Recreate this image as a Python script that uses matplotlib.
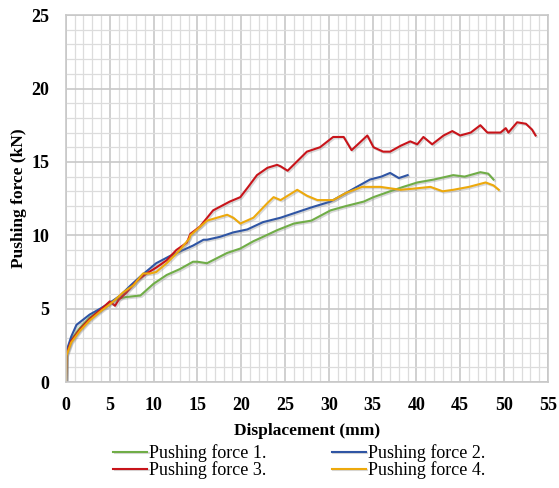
import matplotlib
matplotlib.use("Agg")
import matplotlib.pyplot as plt
import matplotlib.patheffects as pe
from matplotlib.ticker import MultipleLocator

plt.rcParams["font.family"] = ["Liberation Serif", "DejaVu Serif"]

# Pushing force 1 (green)
x1 = [0, 0.05, 0.6, 1.6, 2.7, 3.9, 5.0, 6.0, 6.9, 8.5, 10.0, 11.5, 13.0, 14.5, 15.0,
      16.1, 18.4, 19.9, 21.4, 22.5, 24.1, 26.0, 28.0, 30.2, 32.0, 34.0, 35.1, 37.0,
      38.5, 40.1, 42.0, 44.2, 45.5, 47.3, 48.2, 48.8]
y1 = [0, 2.0, 2.9, 3.7, 4.4, 4.9, 5.4, 5.7, 5.8, 5.9, 6.7, 7.3, 7.7, 8.2, 8.2,
      8.1, 8.8, 9.1, 9.6, 9.9, 10.35, 10.8, 11.0, 11.7, 12.0, 12.3, 12.6, 13.0,
      13.3, 13.6, 13.8, 14.1, 14.0, 14.3, 14.2, 13.8]

# Pushing force 2 (blue)
x2 = [0, 0.05, 0.6, 1.2, 2.7, 3.9, 5.0, 6.2, 7.4, 8.5, 10.3, 11.9, 13.0, 14.5, 15.7,
      16.1, 17.6, 19.1, 20.7, 22.5, 24.5, 26.5, 28.0, 30.2, 32.0, 33.5, 34.7, 36.0,
      37.0, 38.0, 39.0]
y2 = [0, 2.1, 3.1, 3.9, 4.6, 5.0, 5.4, 5.9, 6.6, 7.2, 8.1, 8.6, 8.9, 9.3, 9.7,
      9.7, 9.9, 10.2, 10.4, 10.9, 11.2, 11.6, 11.9, 12.3, 12.9, 13.4, 13.8, 14.0,
      14.25, 13.9, 14.1]

# Pushing force 3 (red)
x3 = [0, 0.05, 0.6, 1.6, 2.7, 3.9, 5.0, 5.6, 6.0, 6.9, 8.1, 9.2, 10.3, 11.5, 12.6,
      13.8, 14.2, 15.3, 16.8, 18.7, 19.9, 20.8, 21.8, 23.0, 24.1, 24.5, 25.3, 27.5,
      29.0, 30.5, 31.7, 32.6, 34.4, 35.1, 36.2, 37.0, 38.2, 39.3, 40.1, 40.8, 41.8,
      43.1, 44.1, 45.0, 46.2, 47.3, 48.1, 49.6, 50.2, 50.5, 51.5, 52.5, 53.2, 53.6]
y3 = [0, 1.9, 2.8, 3.6, 4.3, 4.9, 5.5, 5.2, 5.6, 6.1, 6.9, 7.4, 7.8, 8.3, 9.0,
      9.5, 10.1, 10.6, 11.7, 12.3, 12.6, 13.3, 14.1, 14.6, 14.8, 14.7, 14.4, 15.7,
      16.0, 16.7, 16.7, 15.8, 16.8, 16.0, 15.7, 15.7, 16.1, 16.4, 16.2, 16.7, 16.2,
      16.8, 17.1, 16.8, 17.0, 17.5, 17.0, 17.0, 17.3, 17.0, 17.7, 17.6, 17.2, 16.8]

# Pushing force 4 (yellow)
x4 = [0, 0.05, 0.6, 1.6, 2.7, 3.9, 5.0, 5.6, 6.5, 7.7, 8.8, 9.6, 10.3, 11.5, 13.0,
      14.1, 14.2, 16.1, 18.4, 19.1, 19.9, 21.4, 23.0, 23.7, 24.5, 26.4, 27.5, 28.7,
      30.5, 32.0, 33.8, 35.9, 38.2, 40.0, 41.6, 43.0, 44.2, 46.0, 47.9, 48.8, 49.4]
y4 = [0, 1.8, 2.7, 3.5, 4.2, 4.8, 5.3, 5.6, 6.1, 6.6, 7.4, 7.4, 7.5, 8.1, 9.0,
      9.8, 10.0, 11.0, 11.4, 11.2, 10.8, 11.2, 12.2, 12.6, 12.4, 13.1, 12.7, 12.4,
      12.4, 12.9, 13.3, 13.3, 13.1, 13.2, 13.3, 13.0, 13.1, 13.3, 13.6, 13.4, 13.1]

series = [
    (x1, y1, "Pushing force 1.", "#70AD47"),
    (x2, y2, "Pushing force 2.", "#2F55A4"),
    (x3, y3, "Pushing force 3.", "#C8141A"),
    (x4, y4, "Pushing force 4.", "#EDA90C"),
]

fig = plt.figure(figsize=(5.59, 4.88), dpi=100)
ax = fig.add_axes([0.118, 0.217, 0.862, 0.752])

shadow = [pe.SimpleLineShadow(offset=(1, -1), shadow_color="gray", alpha=0.3), pe.Normal()]
for x, y, lab, col in series:
    ax.plot(x, y, color=col, lw=1.5, label=lab, path_effects=shadow)

ax.set_xlim(0, 55)
ax.set_ylim(0, 25)
ax.xaxis.set_major_locator(MultipleLocator(5))
ax.yaxis.set_major_locator(MultipleLocator(5))
ax.xaxis.set_minor_locator(MultipleLocator(1))
ax.yaxis.set_minor_locator(MultipleLocator(1))
ax.grid(which="major", color="#c8c8c8", lw=1.2)
ax.grid(which="minor", color="#dcdcdc", lw=0.9)
ax.set_axisbelow(True)
ax.tick_params(which="both", length=0, labelsize=13)
ax.tick_params(axis="x", pad=11)
ax.tick_params(axis="y", pad=12)
for lbl in ax.get_xticklabels() + ax.get_yticklabels():
    lbl.set_fontweight("bold")
for s in ax.spines.values():
    s.set_color("#c8c8c8")
    s.set_linewidth(1.2)

ax.set_xlabel("Displacement (mm)", fontsize=12.5, fontweight="bold", labelpad=6)
ax.set_ylabel("Pushing force (kN)", fontsize=12.5, fontweight="bold", labelpad=3)

handles, labels = ax.get_legend_handles_labels()
order = [0, 2, 1, 3]
fig.legend([handles[i] for i in order], [labels[i] for i in order], ncol=2,
           loc="lower center", bbox_to_anchor=(0.535, -0.015), frameon=False,
           fontsize=13, handlelength=1.9, handletextpad=0.1, columnspacing=3.6,
           labelspacing=-0.05)

fig.savefig("out.png", dpi=100)
